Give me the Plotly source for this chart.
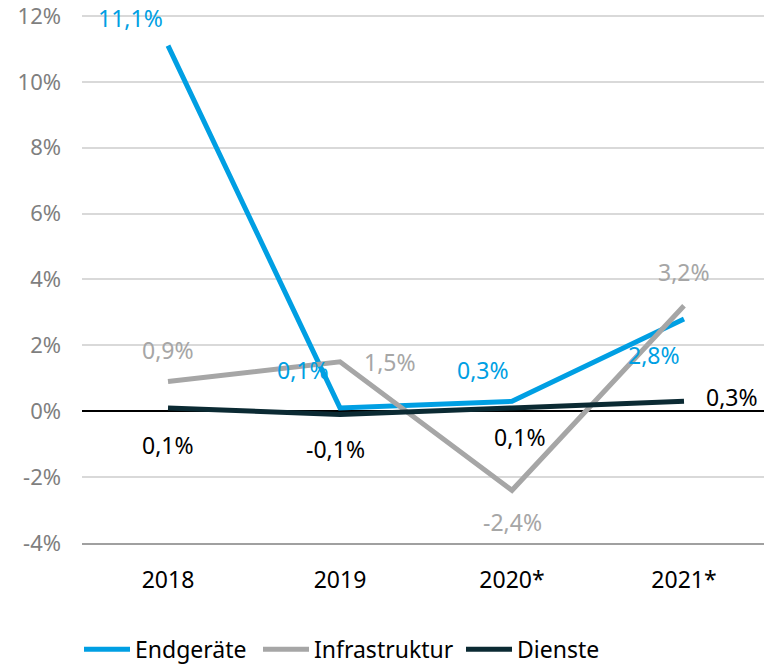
import plotly.graph_objects as go

years = ["2018", "2019", "2020*", "2021*"]
endgeraete = [11.1, 0.1, 0.3, 2.8]
infrastruktur = [0.9, 1.5, -2.4, 3.2]
dienste = [0.1, -0.1, 0.1, 0.3]
y_ticks = [-4, -2, 0, 2, 4, 6, 8, 10, 12]
y_ticklabels = ["-4%", "-2%", "0%", "2%", "4%", "6%", "8%", "10%", "12%"]

series = [
    ("Endgeräte", endgeraete, "#009FE3", "legend",
     [(-38, 28), (-37, 38), (-29, 31), (-30, -36)]),
    ("Infrastruktur", infrastruktur, "#A6A6A6", "legend2",
     [(0, 32), (50, 0), (0, -32), (0, 34)]),
    ("Dienste", dienste, "#0B2A33", "legend3",
     [(0, -37), (-5, -34), (8, -29), (48, 4)]),
]
label_colors = {"Endgeräte": "#009FE3", "Infrastruktur": "#A6A6A6", "Dienste": "#000000"}

FONT = "Noto Sans"
FS = 23
fig = go.Figure()
annotations = []
for name, vals, color, leg, offs in series:
    fig.add_trace(go.Scatter(x=years, y=vals, name=name, mode="lines", legend=leg,
                             line=dict(color=color, width=5)))
    for i, (v, (dx, dy)) in enumerate(zip(vals, offs)):
        annotations.append(dict(x=i, y=v, xref="x", yref="y",
                                text=f"{v:.1f}%".replace(".", ","),
                                showarrow=False, xshift=dx, yshift=dy,
                                font=dict(family=FONT, size=FS, color=label_colors[name])))

# page body has an 8px margin, so the figure is drawn 8px smaller and coordinates shift by 8
leg_common = dict(orientation="h", y=-0.2, yanchor="middle", xanchor="left",
                  font=dict(family=FONT, size=FS, color="#000000"),
                  bgcolor="rgba(0,0,0,0)", itemwidth=46)
fig.update_layout(
    width=764, height=659,
    margin=dict(l=74, r=2, t=3, b=124, autoexpand=False),
    plot_bgcolor="white", paper_bgcolor="white",
    font=dict(family=FONT, size=FS, color="#000000"),
    annotations=annotations,
    showlegend=True,
    legend=dict(x=-3 / 688, **leg_common),
    legend2=dict(x=176 / 688, **leg_common),
    legend3=dict(x=379 / 688, **leg_common),
)
fig.update_xaxes(type="category", range=[-0.5, 3.5], showgrid=False,
                 showline=True, linecolor="#A0A0A0", linewidth=1.5,
                 automargin=False,
                 ticks="", tickfont=dict(size=FS, color="#000000"), ticklabelstandoff=16)
fig.update_yaxes(range=[-4, 12.15], tickvals=y_ticks, ticktext=y_ticklabels,
                 automargin=False, ticklabeloverflow="allow",
                 showgrid=True, gridcolor="#D9D9D9", gridwidth=1.5,
                 zeroline=True, zerolinecolor="#000000", zerolinewidth=1.5,
                 tickfont=dict(size=22, color="#7F7F7F"), ticks="", ticklabelstandoff=20)
fig.write_html("out.html")
